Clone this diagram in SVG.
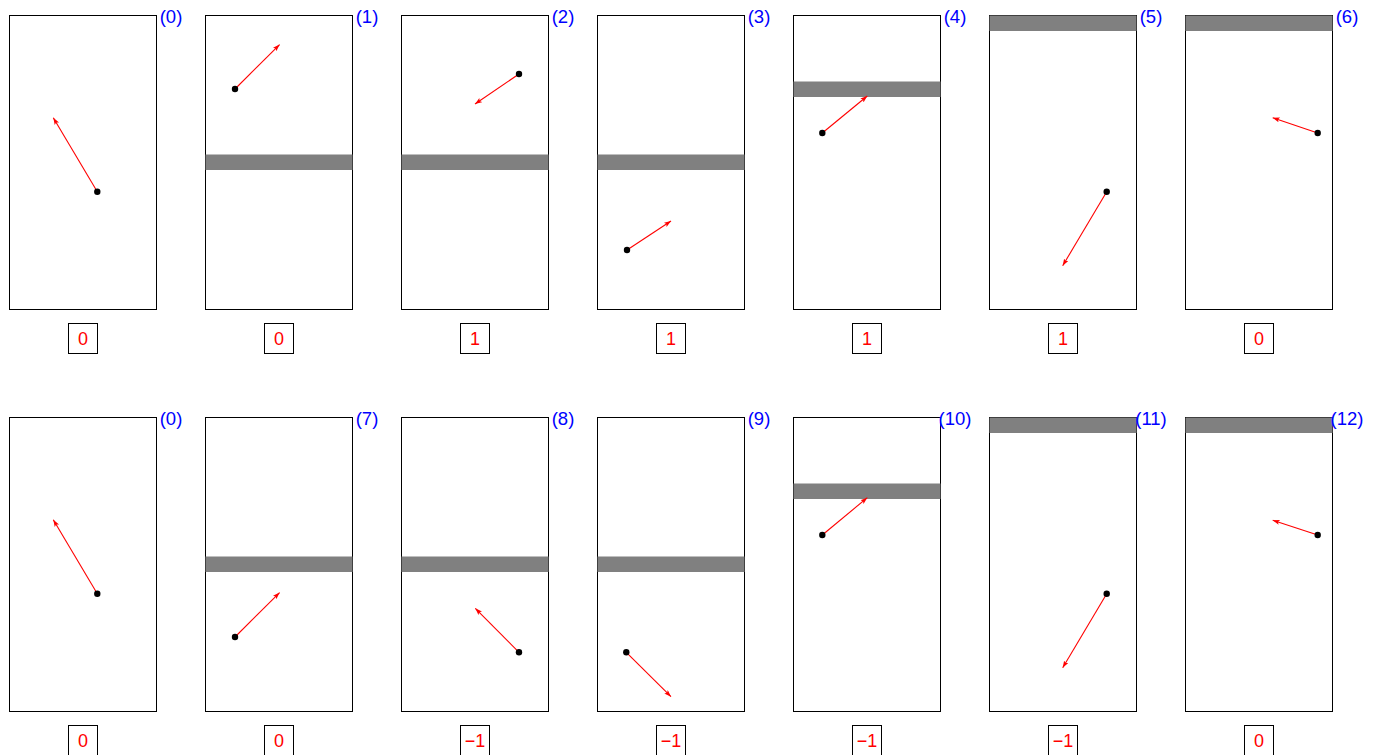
<svg xmlns="http://www.w3.org/2000/svg" width="1377" height="755" viewBox="0 0 1377 755">
<style>
.frame{fill:#fff;stroke:#000;stroke-width:1}
.bar{fill:#808080}
.lbl{font-family:"Liberation Sans",Arial,sans-serif;font-size:18.5px;fill:#0000ff;text-anchor:middle}
.vbox{fill:#fff;stroke:#000;stroke-width:1}
.val{font-family:"Liberation Sans",Arial,sans-serif;font-size:18px;fill:#ff0000;text-anchor:middle}
.dot{fill:#000}
.arr{stroke:#ff0000;stroke-width:1.1;fill:none;marker-end:url(#ah)}
</style>
<defs>
<marker id="ah" markerUnits="userSpaceOnUse" markerWidth="10" markerHeight="8" refX="7" refY="2.5" orient="auto">
<path d="M0,0 L7,2.5 L0,5 L1.5,2.5 z" fill="#ff0000"/>
</marker>
</defs>
<rect width="1377" height="755" fill="#fff"/>
<g id="p0">
<rect class="frame" x="9.5" y="15.5" width="147" height="294"/>
<text class="lbl" x="171" y="22.5">(0)</text>
<rect class="vbox" x="68.5" y="323.5" width="29" height="30"/>
<text class="val" x="83" y="345">0</text>
</g>
<g id="p1">
<rect class="frame" x="205.5" y="15.5" width="147" height="294"/>
<rect class="bar" x="205.5" y="154.5" width="147" height="15.5"/>
<text class="lbl" x="367" y="22.5">(1)</text>
<rect class="vbox" x="264.5" y="323.5" width="29" height="30"/>
<text class="val" x="279" y="345">0</text>
</g>
<g id="p2">
<rect class="frame" x="401.5" y="15.5" width="147" height="294"/>
<rect class="bar" x="401.5" y="154.5" width="147" height="15.5"/>
<text class="lbl" x="563" y="22.5">(2)</text>
<rect class="vbox" x="460.5" y="323.5" width="29" height="30"/>
<text class="val" x="475" y="345">1</text>
</g>
<g id="p3">
<rect class="frame" x="597.5" y="15.5" width="147" height="294"/>
<rect class="bar" x="597.5" y="154.5" width="147" height="15.5"/>
<text class="lbl" x="759" y="22.5">(3)</text>
<rect class="vbox" x="656.5" y="323.5" width="29" height="30"/>
<text class="val" x="671" y="345">1</text>
</g>
<g id="p4">
<rect class="frame" x="793.5" y="15.5" width="147" height="294"/>
<rect class="bar" x="793.5" y="81.5" width="147" height="15.5"/>
<text class="lbl" x="955" y="22.5">(4)</text>
<rect class="vbox" x="852.5" y="323.5" width="29" height="30"/>
<text class="val" x="867" y="345">1</text>
</g>
<g id="p5">
<rect class="frame" x="989.5" y="15.5" width="147" height="294"/>
<rect class="bar" x="989.5" y="15.5" width="147" height="15.5"/>
<text class="lbl" x="1151" y="22.5">(5)</text>
<rect class="vbox" x="1048.5" y="323.5" width="29" height="30"/>
<text class="val" x="1063" y="345">1</text>
</g>
<g id="p6">
<rect class="frame" x="1185.5" y="15.5" width="147" height="294"/>
<rect class="bar" x="1185.5" y="15.5" width="147" height="15.5"/>
<text class="lbl" x="1347" y="22.5">(6)</text>
<rect class="vbox" x="1244.5" y="323.5" width="29" height="30"/>
<text class="val" x="1259" y="345">0</text>
</g>
<g id="q0">
<rect class="frame" x="9.5" y="417.5" width="147" height="294"/>
<text class="lbl" x="171" y="424.5">(0)</text>
<rect class="vbox" x="68.5" y="725.5" width="29" height="30"/>
<text class="val" x="83" y="747">0</text>
</g>
<g id="q7">
<rect class="frame" x="205.5" y="417.5" width="147" height="294"/>
<rect class="bar" x="205.5" y="556.5" width="147" height="15.5"/>
<text class="lbl" x="367" y="424.5">(7)</text>
<rect class="vbox" x="264.5" y="725.5" width="29" height="30"/>
<text class="val" x="279" y="747">0</text>
</g>
<g id="q8">
<rect class="frame" x="401.5" y="417.5" width="147" height="294"/>
<rect class="bar" x="401.5" y="556.5" width="147" height="15.5"/>
<text class="lbl" x="563" y="424.5">(8)</text>
<rect class="vbox" x="460.5" y="725.5" width="29" height="30"/>
<text class="val" x="475" y="747">−1</text>
</g>
<g id="q9">
<rect class="frame" x="597.5" y="417.5" width="147" height="294"/>
<rect class="bar" x="597.5" y="556.5" width="147" height="15.5"/>
<text class="lbl" x="759" y="424.5">(9)</text>
<rect class="vbox" x="656.5" y="725.5" width="29" height="30"/>
<text class="val" x="671" y="747">−1</text>
</g>
<g id="q10">
<rect class="frame" x="793.5" y="417.5" width="147" height="294"/>
<rect class="bar" x="793.5" y="483.5" width="147" height="15.5"/>
<text class="lbl" x="955" y="424.5">(10)</text>
<rect class="vbox" x="852.5" y="725.5" width="29" height="30"/>
<text class="val" x="867" y="747">−1</text>
</g>
<g id="q11">
<rect class="frame" x="989.5" y="417.5" width="147" height="294"/>
<rect class="bar" x="989.5" y="417.5" width="147" height="15.5"/>
<text class="lbl" x="1151" y="424.5">(11)</text>
<rect class="vbox" x="1048.5" y="725.5" width="29" height="30"/>
<text class="val" x="1063" y="747">−1</text>
</g>
<g id="q12">
<rect class="frame" x="1185.5" y="417.5" width="147" height="294"/>
<rect class="bar" x="1185.5" y="417.5" width="147" height="15.5"/>
<text class="lbl" x="1347" y="424.5">(12)</text>
<rect class="vbox" x="1244.5" y="725.5" width="29" height="30"/>
<text class="val" x="1259" y="747">0</text>
</g>
<g id="connectors">
<path class="arr" d="M97.3,191.7 L53.3,117.7"/>
<path class="arr" d="M235,89 L279.6,44.6"/>
<path class="arr" d="M519,74 L475,104"/>
<path class="arr" d="M627,250 L671,221"/>
<path class="arr" d="M822.3,133 L867.3,96"/>
<path class="arr" d="M1106.7,191.7 L1062.7,265.7"/>
<path class="arr" d="M1317.7,133 L1272.7,117.7"/>
<path class="arr" d="M97.3,593.7 L53.3,519.7"/>
<path class="arr" d="M235,637 L279.6,592.6"/>
<path class="arr" d="M519,652.3 L475.3,608.3"/>
<path class="arr" d="M626.3,652.3 L671,696.7"/>
<path class="arr" d="M822.3,535 L867.3,497.7"/>
<path class="arr" d="M1106.7,593.7 L1062.7,667.7"/>
<path class="arr" d="M1317.7,535 L1272.7,520.3"/>
</g>
<g id="dots">
<circle class="dot" cx="97.3" cy="191.7" r="3.2"/>
<circle class="dot" cx="235" cy="89" r="3.2"/>
<circle class="dot" cx="519" cy="74" r="3.2"/>
<circle class="dot" cx="627" cy="250" r="3.2"/>
<circle class="dot" cx="822.3" cy="133" r="3.2"/>
<circle class="dot" cx="1106.7" cy="191.7" r="3.2"/>
<circle class="dot" cx="1317.7" cy="133" r="3.2"/>
<circle class="dot" cx="97.3" cy="593.7" r="3.2"/>
<circle class="dot" cx="235" cy="637" r="3.2"/>
<circle class="dot" cx="519" cy="652.3" r="3.2"/>
<circle class="dot" cx="626.3" cy="652.3" r="3.2"/>
<circle class="dot" cx="822.3" cy="535" r="3.2"/>
<circle class="dot" cx="1106.7" cy="593.7" r="3.2"/>
<circle class="dot" cx="1317.7" cy="535" r="3.2"/>
</g>
</svg>
